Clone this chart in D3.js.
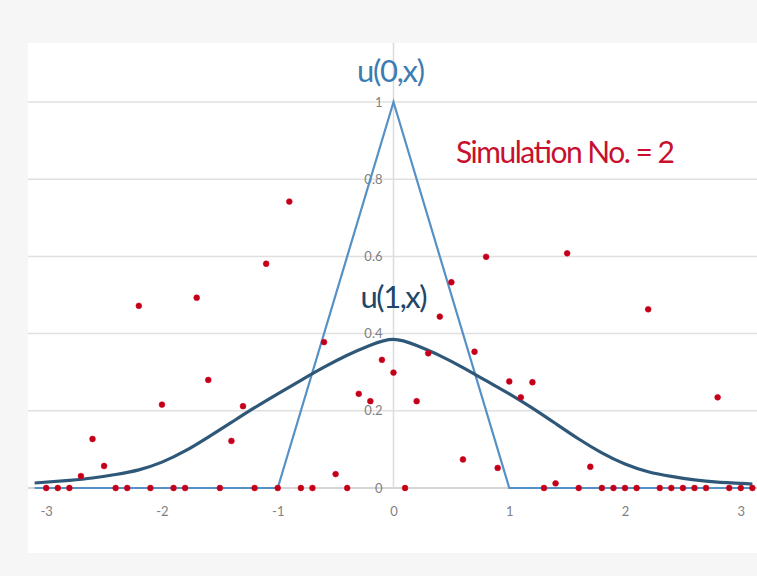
<!DOCTYPE html>
<html>
<head>
<meta charset="utf-8">
<script src="https://cdn.jsdelivr.net/npm/d3@7"></script>
<style>
  html, body { margin: 0; padding: 0; background: #f6f6f6; }
  svg { display: block; font-family: Lato, "Open Sans", sans-serif; }
</style>
</head>
<body>
<div class="svg-container"></div>
<script>
// simulated values u at x = -3.0 ... 3.1
const dotX = [-3.0, -2.9, -2.8, -2.7, -2.6, -2.5, -2.4, -2.3, -2.2, -2.1,
  -2.0, -1.9, -1.8, -1.7, -1.6, -1.5, -1.4, -1.3, -1.2, -1.1,
  -1.0, -0.9, -0.8, -0.7, -0.6, -0.5, -0.4, -0.3, -0.2, -0.1,
  0.0, 0.1, 0.2, 0.3, 0.4, 0.5, 0.6, 0.7, 0.8, 0.9,
  1.0, 1.1, 1.2, 1.3, 1.4, 1.5, 1.6, 1.7, 1.8, 1.9,
  2.0, 2.1, 2.2, 2.3, 2.4, 2.5, 2.6, 2.7, 2.8, 2.9,
  3.0, 3.1];
const dotY = [0, 0, 0, 0.031, 0.127, 0.057, 0, 0, 0.472, 0,
  0.216, 0, 0, 0.493, 0.280, 0, 0.122, 0.212, 0, 0.581,
  0, 0.742, 0, 0, 0.378, 0.036, 0, 0.244, 0.225, 0.332,
  0.299, 0, 0.225, 0.349, 0.444, 0.533, 0.074, 0.353, 0.599, 0.052,
  0.276, 0.235, 0.274, 0, 0.012, 0.608, 0, 0.055, 0, 0,
  0, 0, 0.463, 0, 0, 0, 0, 0, 0.235, 0,
  0, 0];

// initial condition u(0,x)
const u0X = [-3.1, -1, 0, 1, 3.1];
const u0Y = [0, 0, 1, 0, 0];

// u(1,x)
const u1X = [-3.1, -2.8, -2.6, -2.4, -2.2, -2.0, -1.8, -1.6, -1.4, -1.2, -1.0,
  -0.8, -0.6, -0.4, -0.2, 0, 0.2, 0.4, 0.6, 0.8, 1.0,
  1.2, 1.4, 1.6, 1.8, 2.0, 2.2, 2.4, 2.6, 2.8, 3.1];
const u1Y = [0.013, 0.020, 0.026, 0.035, 0.047, 0.067, 0.096, 0.132, 0.170, 0.208, 0.244,
  0.279, 0.313, 0.344, 0.370, 0.385, 0.369, 0.343, 0.312, 0.278, 0.244,
  0.207, 0.167, 0.127, 0.091, 0.062, 0.042, 0.030, 0.021, 0.015, 0.010];

const xTicks = [-3, -2, -1, 0, 1, 2, 3];
const yTicks = [0, 0.2, 0.4, 0.6, 0.8, 1];

const width = 757;
const height = 576;
const plot = { left: 28, top: 43, right: 757, bottom: 553 };

const svg = d3.select('.svg-container')
.append('svg')
.attr('width', width)
.attr('height', height);

svg.append('rect')
.attr('x', plot.left)
.attr('y', plot.top)
.attr('width', plot.right - plot.left)
.attr('height', plot.bottom - plot.top)
.attr('fill', '#ffffff');

const xScale = d3.scaleLinear()
.domain([-3.14, 3.14])
.range([30, 757]);

const yScale = d3.scaleLinear()
.domain([0, 1])
.range([488, 102]);

// horizontal gridlines
svg.append('g')
.selectAll('line')
.data(yTicks)
.enter()
.append('line')
.attr('x1', plot.left)
.attr('x2', plot.right)
.attr('y1', d => yScale(d))
.attr('y2', d => yScale(d))
.attr('stroke', d => d === 0 ? '#c9c9c9' : '#e0e0e0')
.attr('stroke-width', 1.5);

// vertical axis line at x = 0
svg.append('line')
.attr('x1', xScale(0))
.attr('x2', xScale(0))
.attr('y1', plot.top)
.attr('y2', yScale(0))
.attr('stroke', '#dcdcdc')
.attr('stroke-width', 1.5);

const xAxis = d3.axisBottom(xScale)
.tickValues(xTicks)
.tickSize(0)
.tickPadding(19)
.tickFormat(d => String(d));

const yAxis = d3.axisLeft(yScale)
.tickValues(yTicks)
.tickSize(0)
.tickPadding(11)
.tickFormat(d => String(d));

const gx = svg.append('g')
.attr('id', 'x-axis')
.attr('transform', `translate(0, ${yScale(0)})`)
.call(xAxis);

const gy = svg.append('g')
.attr('id', 'y-axis')
.attr('transform', `translate(${xScale(0)}, 0)`)
.call(yAxis);

[gx, gy].forEach(g => {
  g.select('.domain').remove();
  g.selectAll('text')
  .attr('fill', '#7f7f7f')
  .style('font-size', '13px')
  .style('font-family', 'Lato, sans-serif');
});

const line = d3.line()
.x(d => xScale(d[0]))
.y(d => yScale(d[1]));

svg.append('path')
.datum(u0X.map((x, i) => [x, u0Y[i]]))
.attr('d', line)
.attr('fill', 'none')
.attr('stroke', '#5691c6')
.attr('stroke-width', 2.2);

svg.append('path')
.datum(u1X.map((x, i) => [x, u1Y[i]]))
.attr('d', line.curve(d3.curveNatural))
.attr('fill', 'none')
.attr('stroke', '#2f5878')
.attr('stroke-width', 3.2);

svg.append('g')
.selectAll('circle')
.data(dotX.map((x, i) => [x, dotY[i]]))
.enter()
.append('circle')
.attr('cx', d => xScale(d[0]))
.attr('cy', d => yScale(d[1]))
.attr('r', 2.9)
.attr('fill', '#be0018')
.attr('stroke', '#dc0024')
.attr('stroke-width', 0.6);

svg.append('text')
.text('u(0,x)')
.attr('x', 391)
.attr('y', 82)
.attr('text-anchor', 'middle')
.attr('textLength', 68)
.style('font-size', '31px')
.attr('fill', '#3b7db3');

svg.append('text')
.text('u(1,x)')
.attr('x', 394)
.attr('y', 308)
.attr('text-anchor', 'middle')
.attr('textLength', 67)
.style('font-size', '31px')
.attr('fill', '#20466a');

svg.append('text')
.text('Simulation No. = 2')
.attr('x', 456)
.attr('y', 163)
.attr('textLength', 219)
.style('font-size', '30px')
.attr('fill', '#c8102e');
</script>
</body>
</html>
